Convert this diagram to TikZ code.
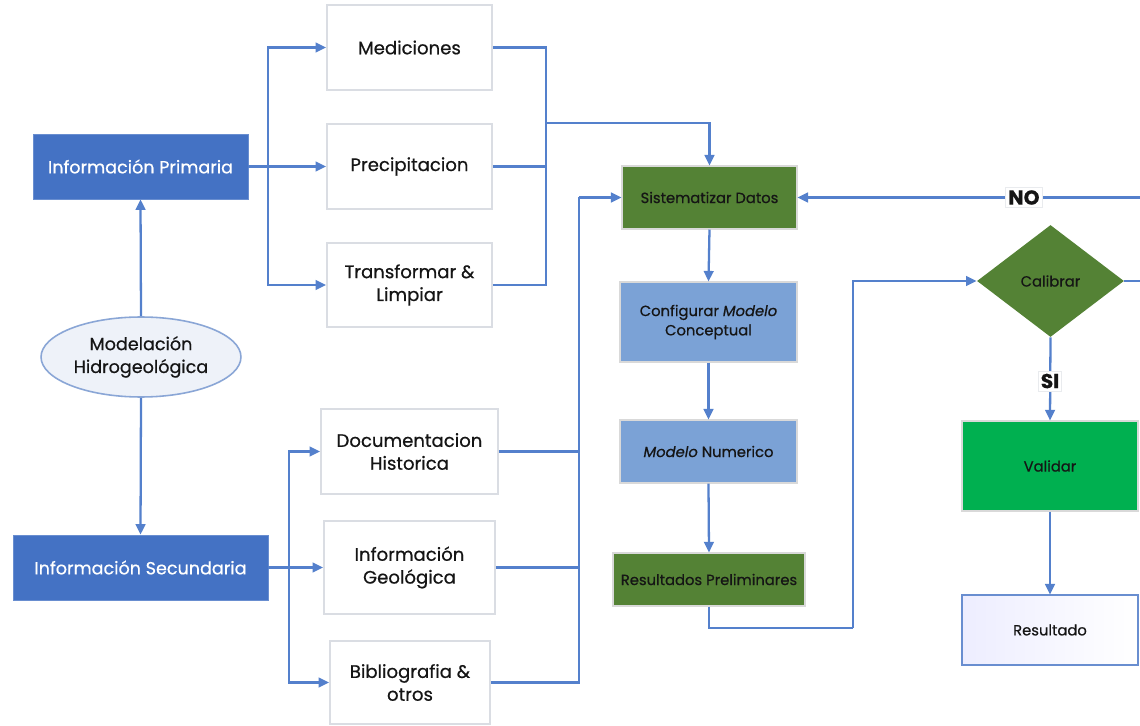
\documentclass[tikz,border=0pt]{standalone}
\usepackage{fontspec}
\setmainfont{Poppins}[FakeBold=0.6]
\usetikzlibrary{shapes.geometric,arrows.meta}
\definecolor{cblue}{HTML}{4472C4}
\definecolor{clblue}{HTML}{7BA2D6}
\definecolor{cdgreen}{HTML}{548235}
\definecolor{cgreen}{HTML}{00B050}
\definecolor{cline}{HTML}{5480CC}
\definecolor{cgrey}{HTML}{DADDE3}
\definecolor{cell}{HTML}{EEF2F9}
\definecolor{cellb}{HTML}{8AA6D6}
\definecolor{ctext}{HTML}{151515}
\tikzset{
  infobox/.style={rectangle, fill=cblue, draw=cblue!80!white, text=white, font=\fontsize{10}{12}\selectfont, align=center, inner sep=0pt},
  greybox/.style={rectangle, fill=white, draw=cgrey, line width=1pt, text=ctext, font=\fontsize{10.3}{13}\selectfont, align=center, inner sep=0pt},
  procbox/.style={rectangle, draw=white!70!gray, line width=0.6pt, text=ctext, font=\fontsize{8.4}{11}\selectfont, align=center, inner sep=0pt},
  conn/.style={draw=cline, line width=1.3pt},
  arr/.style={conn, -{Triangle[length=6pt,width=5.5pt]}},
  lbl/.style={fill=white, draw=cgrey!60!white, line width=0.4pt, text=ctext, font=\fontsize{11.5}{12}\selectfont\bfseries, inner sep=1.5pt}
}
\begin{document}
\begin{tikzpicture}[x=0.02cm, y=-0.02cm]
\useasboundingbox[fill=white] (0,0) rectangle (1140,726);
% left column
\node[infobox, minimum width=4.3cm, minimum height=1.3cm] (prim) at (140.5,166.5) {Información Primaria};
\node[ellipse, fill=cell, draw=cellb, line width=0.9pt, minimum width=4cm, minimum height=1.6cm, inner sep=0pt, align=center, text=ctext, font=\fontsize{10}{13}\selectfont] (modl) at (141,357) {Modelación\\Hidrogeológica};
\node[infobox, minimum width=5.1cm, minimum height=1.3cm] (sec) at (140.5,567.5) {Información Secundaria};
% primary branch
\node[greybox, minimum width=3.3cm, minimum height=1.7cm] (med) at (409.5,47.5) {Mediciones};
\node[greybox, minimum width=3.3cm, minimum height=1.7cm] (prec) at (409.5,166.5) {Precipitacion};
\node[greybox, minimum width=3.3cm, minimum height=1.68cm] (trans) at (409.5,285) {Transformar \&\\Limpiar};
% secondary branch
\node[greybox, minimum width=3.54cm, minimum height=1.7cm] (doc) at (409.5,451.5) {Documentacion\\Historica};
\node[greybox, minimum width=3.42cm, minimum height=1.86cm] (geo) at (409.5,567.5) {Información\\Geológica};
\node[greybox, minimum width=3.2cm, minimum height=1.66cm] (bib) at (410,682.5) {Bibliografia \&\\otros};
% process column
\node[procbox, fill=cdgreen, minimum width=3.5cm, minimum height=1.26cm] (sist) at (709.5,197.5) {Sistematizar Datos};
\node[procbox, fill=clblue, minimum width=3.54cm, minimum height=1.6cm] (conf) at (708.5,322) {Configurar {\itshape Modelo}\\Conceptual};
\node[procbox, fill=clblue, minimum width=3.54cm, minimum height=1.26cm] (num) at (708.5,451.5) {{\itshape Modelo} Numerico};
\node[procbox, fill=cdgreen, minimum width=3.84cm, minimum height=1.06cm] (res) at (709,579.5) {Resultados Preliminares};
% right column
\node[diamond, fill=cdgreen, minimum width=2.94cm, minimum height=2.24cm, inner sep=0pt, text=ctext, font=\fontsize{8.4}{11}\selectfont] (cal) at (1050.5,281) {Calibrar};
\node[procbox, fill=cgreen, minimum width=3.52cm, minimum height=1.8cm] (val) at (1050,466) {Validar};
\node[procbox, draw=cblue!80!white, left color=blue!7, right color=white, minimum width=3.52cm, minimum height=1.4cm] (rslt) at (1050,630) {Resultado};
% helper coordinates
\coordinate (pb) at (268,166.5);
\coordinate (pj) at (546,123);
\coordinate (sb) at (289,567.5);
\coordinate (sj) at (579,197.5);
\coordinate (rc) at (853,628);
\coordinate (ne) at (1148,197.5);
% connectors: ellipse
\draw[arr] (modl.north) -- (prim.south);
\draw[arr] (modl.south) -- (sec.north);
% primary fan-out
\draw[arr] (prim.east) -- (prec.west);
\draw[arr] (pb) |- (med.west);
\draw[arr] (pb) |- (trans.west);
% primary fan-in
\draw[conn] (med.east) -| (pj);
\draw[conn] (prec.east) -| (pj);
\draw[conn] (trans.east) -| (pj);
\draw[arr] (pj) -| (sist.north);
% secondary fan-out
\draw[arr] (sec.east) -- (geo.west);
\draw[arr] (sb) |- (doc.west);
\draw[arr] (sb) |- (bib.west);
% secondary fan-in
\draw[conn] (doc.east) -| (sj);
\draw[conn] (geo.east) -| (sj);
\draw[conn] (bib.east) -| (sj);
\draw[arr] (sj) -- (sist.west);
% process chain
\draw[arr] (sist.south) -- (conf.north);
\draw[arr] (conf.south) -- (num.north);
\draw[arr] (num.south) -- (res.north);
\draw[conn] (res.south) |- (rc);
\draw[arr] (rc) |- (cal.west);
% decision
\draw[arr] (cal.east) -| (ne) -- (sist.east);
\node[lbl] (no) at (1024,197.5) {NO};
\draw[arr] (cal.south) -- (val.north);
\node[lbl] (si) at (1050,381) {SI};
\draw[arr] (val.south) -- (rslt.north);
\end{tikzpicture}
\end{document}
